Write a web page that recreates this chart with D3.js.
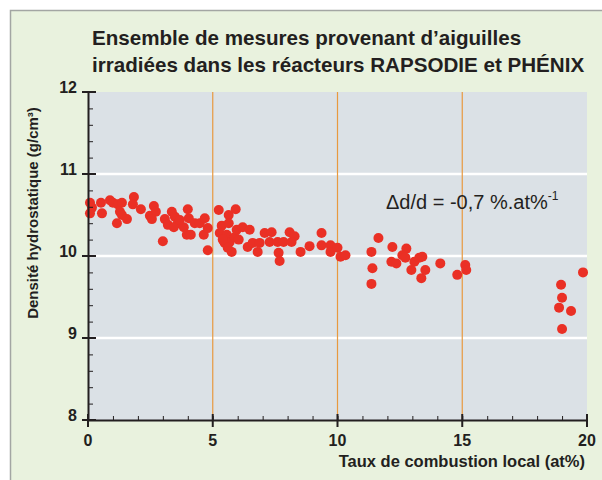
<!DOCTYPE html>
<html><head><meta charset="utf-8">
<script src="https://cdn.jsdelivr.net/npm/d3@7"></script>
<style>
html,body{margin:0;padding:0;background:#fff;}
svg{display:block;font-family:"Liberation Sans",Arial,Helvetica,sans-serif;}
</style></head>
<body>
<svg id="chart" width="602" height="480"></svg>
<script>
// ---- data ----
const titleLines = ["Ensemble de mesures provenant d\u2019aiguilles", "irradi\u00e9es dans les r\u00e9acteurs RAPSODIE et PH\u00c9NIX"];
const xTitle = "Taux de combustion local (at%)";
const yTitle = "Densit\u00e9 hydrostatique (g/cm\u00b3)";
const xTicks = [0, 5, 10, 15, 20];
const yTicks = [8, 9, 10, 11, 12];
const burnup = [0.08,0.08,0.16,0.52,0.56,0.88,1.0,1.2,1.36,1.28,1.36,1.16,1.56,1.84,1.8,2.12,2.48,2.64,2.72,2.56,3.0,3.08,3.2,3.36,3.48,3.6,3.44,3.84,4.0,4.04,3.96,4.12,4.28,4.48,4.68,4.64,4.8,4.8,3.68,
  5.24,5.64,5.92,5.36,5.64,5.28,5.56,5.48,5.68,5.88,6.04,5.96,6.2,6.48,5.76,5.6,6.4,6.6,6.8,6.88,7.08,7.36,7.28,7.6,7.64,7.68,7.84,8.08,8.28,8.16,8.52,8.88,9.36,9.36,9.72,9.72,10.0,10.12,10.32,5.4,
  11.36,11.64,11.4,11.36,12.2,12.16,12.36,12.76,12.6,12.72,12.96,13.08,13.28,13.4,13.36,13.52,14.12,14.8,15.12,15.16,
  19.84,18.96,19.0,18.88,19.36,19.0];
const density = [10.65,10.52,10.59,10.65,10.52,10.68,10.65,10.63,10.65,10.54,10.50,10.40,10.45,10.72,10.63,10.57,10.49,10.61,10.54,10.45,10.18,10.45,10.38,10.54,10.48,10.40,10.35,10.35,10.57,10.46,10.26,10.26,10.40,10.40,10.46,10.26,10.34,10.07,10.44,
  10.56,10.50,10.57,10.37,10.40,10.28,10.26,10.16,10.17,10.23,10.20,10.32,10.35,10.32,10.05,10.10,10.11,10.16,10.05,10.16,10.28,10.29,10.17,10.17,10.04,9.94,10.17,10.29,10.24,10.17,10.05,10.12,10.28,10.13,10.13,10.05,10.10,9.99,10.01,10.20,
  10.05,10.22,9.85,9.66,10.11,9.93,9.91,10.09,10.01,9.98,9.83,9.93,9.98,9.99,9.73,9.83,9.91,9.77,9.89,9.83,
  9.80,9.65,9.49,9.37,9.33,9.11];

// ---- layout ----
const svg = d3.select("#chart");
const L = 88, R = 587, T = 92, B = 420;
const x = d3.scaleLinear().domain([0, 20]).range([L, R]);
const y = d3.scaleLinear().domain([8, 12]).range([B, T]);

// outer panel
svg.append("rect").attr("x", 10.5).attr("y", 10.5).attr("width", 620).attr("height", 500)
  .attr("fill", "#e9f2de").attr("stroke", "#a3a6a3").attr("stroke-width", 1.5);

// plot background
svg.append("rect").attr("x", L).attr("y", T).attr("width", R - L).attr("height", B - T).attr("fill", "#dbe1e6");

// horizontal white grid
svg.append("g").selectAll("line").data(yTicks.filter(d => d > 8 && d < 12)).join("line")
  .attr("x1", L).attr("x2", R).attr("y1", d => y(d)).attr("y2", d => y(d))
  .attr("stroke", "#ffffff").attr("stroke-width", 2.5);

// vertical orange lines
svg.append("g").selectAll("line").data(xTicks.filter(d => d > 0 && d < 20)).join("line")
  .attr("x1", d => x(d)).attr("x2", d => x(d)).attr("y1", T).attr("y2", B)
  .attr("stroke", "#e8993f").attr("stroke-width", 1.2);

// points
svg.append("g").selectAll("circle").data(burnup.map((b, i) => [b, density[i]])).join("circle")
  .attr("cx", d => x(d[0])).attr("cy", d => y(d[1])).attr("r", 5)
  .attr("fill", "#ea3025");

// y axis
const yMinor = d3.range(8, 12.001, 0.2).map(v => +v.toFixed(1));
const ya = svg.append("g").attr("transform", `translate(${L},0)`);
ya.append("g").call(d3.axisRight(y).tickValues(yMinor).tickSize(5).tickFormat(""))
  .call(g => g.select(".domain").remove())
  .selectAll("line").attr("stroke", "#231f20").attr("stroke-width", 1);
ya.append("g").call(d3.axisLeft(y).tickValues(yTicks).tickSize(0).tickPadding(0).tickFormat(""))
  .select(".domain").attr("stroke", "#231f20").attr("stroke-width", 2);
ya.selectAll(".major").data(yTicks).join("line").attr("class", "major")
  .attr("x1", -6).attr("x2", 8).attr("y1", d => y(d)).attr("y2", d => y(d))
  .attr("stroke", "#231f20").attr("stroke-width", 2);
ya.selectAll(".ylab").data(yTicks).join("text").attr("class", "ylab")
  .attr("x", -11).attr("y", d => y(d) - 5).attr("dy", "0.35em").attr("text-anchor", "end")
  .attr("font-size", 16).attr("font-weight", "bold").attr("fill", "#231f20").text(d => d);

// x axis
const xMinor = d3.range(0, 21, 1);
const xa = svg.append("g").attr("transform", `translate(0,${B})`);
xa.append("g").call(d3.axisTop(x).tickValues(xMinor).tickSize(4).tickFormat(""))
  .call(g => g.select(".domain").remove())
  .selectAll("line").attr("stroke", "#231f20").attr("stroke-width", 1);
xa.append("g").call(d3.axisBottom(x).tickValues(xTicks).tickSize(0).tickFormat(""))
  .select(".domain").attr("stroke", "#231f20").attr("stroke-width", 2);
xa.selectAll(".major").data(xTicks).join("line").attr("class", "major")
  .attr("x1", d => x(d)).attr("x2", d => x(d)).attr("y1", -6).attr("y2", 7)
  .attr("stroke", "#231f20").attr("stroke-width", 2);
xa.selectAll(".xlab").data(xTicks).join("text").attr("class", "xlab")
  .attr("x", d => x(d)).attr("y", 26).attr("text-anchor", "middle")
  .attr("font-size", 16).attr("font-weight", "bold").attr("fill", "#231f20").text(d => d);

// axis titles
svg.append("text").attr("x", 585).attr("y", 467).attr("text-anchor", "end")
  .attr("font-size", 16.5).attr("font-weight", "bold").attr("fill", "#231f20").text(xTitle);
svg.append("text").attr("transform", "translate(38,213) rotate(-90)").attr("text-anchor", "middle")
  .attr("font-size", 15).attr("font-weight", "bold").attr("fill", "#231f20").text(yTitle);

// title
svg.append("g").selectAll("text").data(titleLines).join("text")
  .attr("x", 92).attr("y", (d, i) => 45 + i * 26.5)
  .attr("font-size", 20.6).attr("font-weight", "bold").attr("fill", "#231f20").text(d => d);

// annotation
const ann = svg.append("text").attr("x", 386).attr("y", 209)
  .attr("font-size", 20).attr("fill", "#231f20");
ann.append("tspan").text("\u0394d/d = -0,7 %.at%");
ann.append("tspan").attr("dy", -9).attr("font-size", 12).text("-1");
</script>
</body></html>
